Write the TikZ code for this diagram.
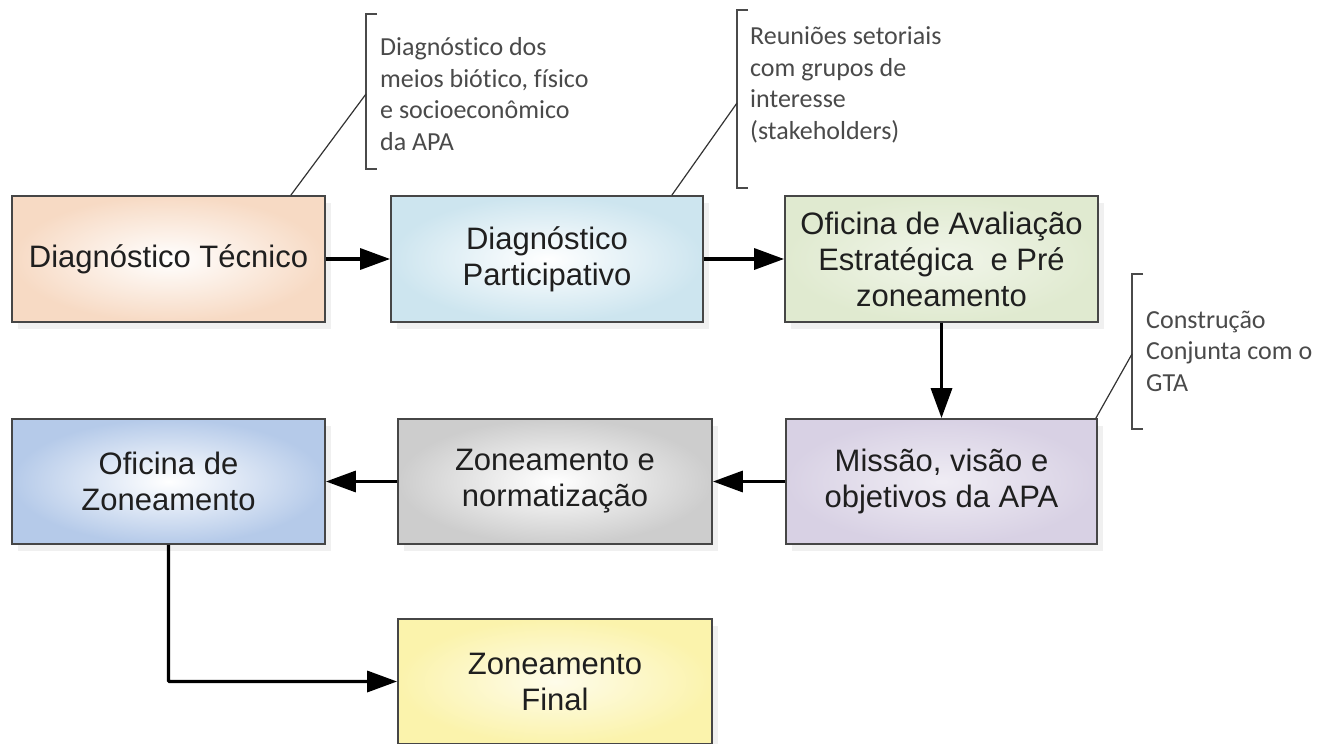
\documentclass[tikz,border=0pt]{standalone}
\usepackage{fontspec}
\setmainfont{Liberation Sans}
\newfontfamily\notefont[Ligatures={NoCommon}]{Carlito}
\usetikzlibrary{arrows.meta,shadows}
\definecolor{boxline}{HTML}{464646}
\definecolor{notegray}{HTML}{4A4A4A}
\definecolor{cpeach}{HTML}{F7DAC4}
\definecolor{cblue}{HTML}{CDE5EF}
\definecolor{cgreen}{HTML}{E0EAD0}
\definecolor{clav}{HTML}{D8D1E4}
\definecolor{cgray}{HTML}{CDCDCD}
\definecolor{cblue2}{HTML}{B5CAE9}
\definecolor{cyellow}{HTML}{FBF3AC}
\begin{document}
\begin{tikzpicture}[x=1pt,y=-1pt,
  box/.style={draw=boxline, line width=1.8pt, minimum width=313pt, minimum height=126pt,
    inner sep=0pt, align=center, text=black!88,
    font=\fontsize{31}{36}\selectfont,
    drop shadow={shadow xshift=6pt, shadow yshift=-7pt, fill=black!6, opacity=1}},
  flow/.style={line width=3.4pt, black, -{Triangle[length=30pt,width=21pt]}},
  bracket/.style={draw=notegray, line width=1.6pt},
  leader/.style={draw=black!80, line width=1.2pt},
  note/.style={anchor=west, inner sep=0pt, align=left, text=notegray,
    font=\notefont\fontsize{26}{31.5}\selectfont}]
\useasboundingbox[fill=white] (0,0) rectangle (1334,744);

% boxes
\node[box, inner color=white, outer color=cpeach] (b1) at (168.5,259) {Diagnóstico Técnico};
\node[box, inner color=white, outer color=cblue, minimum width=312pt] (b2) at (547,259) {Diagnóstico\\Participativo};
\node[box, inner color=cgreen!45, outer color=cgreen] (b3) at (941.5,259) {Oficina de Avaliação\\Estratégica~ e Pré\\zoneamento};
\node[box, inner color=clav!40, outer color=clav, minimum width=311pt, minimum height=125pt] (m) at (941.5,481.5) {Missão, visão e\\objetivos da APA};
\node[box, inner color=white, outer color=cgray, minimum width=314pt, minimum height=125pt] (z) at (555,481.5) {Zoneamento e\\normatização};
\node[box, inner color=white, outer color=cblue2, minimum height=125pt] (o) at (168.5,481.5) {Oficina de\\Zoneamento};
\node[box, inner color=cyellow!25, outer color=cyellow, minimum width=314pt, minimum height=125pt] (f) at (555,681.5) {Zoneamento\\Final};

% flow arrows
\draw[flow] (b1) -- (b2);
\draw[flow] (b2) -- (b3);
\draw[flow] (b3) -- (m);
\draw[flow] (m) -- (z);
\draw[flow] (z) -- (o);
\draw[flow, rounded corners=1pt] (o.south) |- (f.west);

% annotation 1
\draw[bracket] (377,14) -- (366,14) -- (366,169) -- (377,169);
\coordinate (a1) at (366,94);
\draw[leader] (a1) -- ([xshift=-35pt]b1.north east);
\node[note] (n1) at (380,94) {Diagnóstico dos\\meios biótico, físico\\e socioeconômico\\da APA};

% annotation 2
\draw[bracket] (748,10) -- (737,10) -- (737,188) -- (748,188);
\coordinate (a2) at (737,103);
\draw[leader] (a2) -- ([xshift=-32pt]b2.north east);
\node[note] (n2) at (750,85) {Reuniões setoriais\\com grupos de\\interesse\\(stakeholders)};

% annotation 3
\draw[bracket] (1143,274) -- (1132,274) -- (1132,429) -- (1143,429);
\coordinate (a3) at (1132,354);
\draw[leader] (a3) -- ([xshift=-2pt]m.north east);
\node[note] (n3) at (1146,351) {Construção\\Conjunta com o\\GTA};
\end{tikzpicture}
\end{document}
